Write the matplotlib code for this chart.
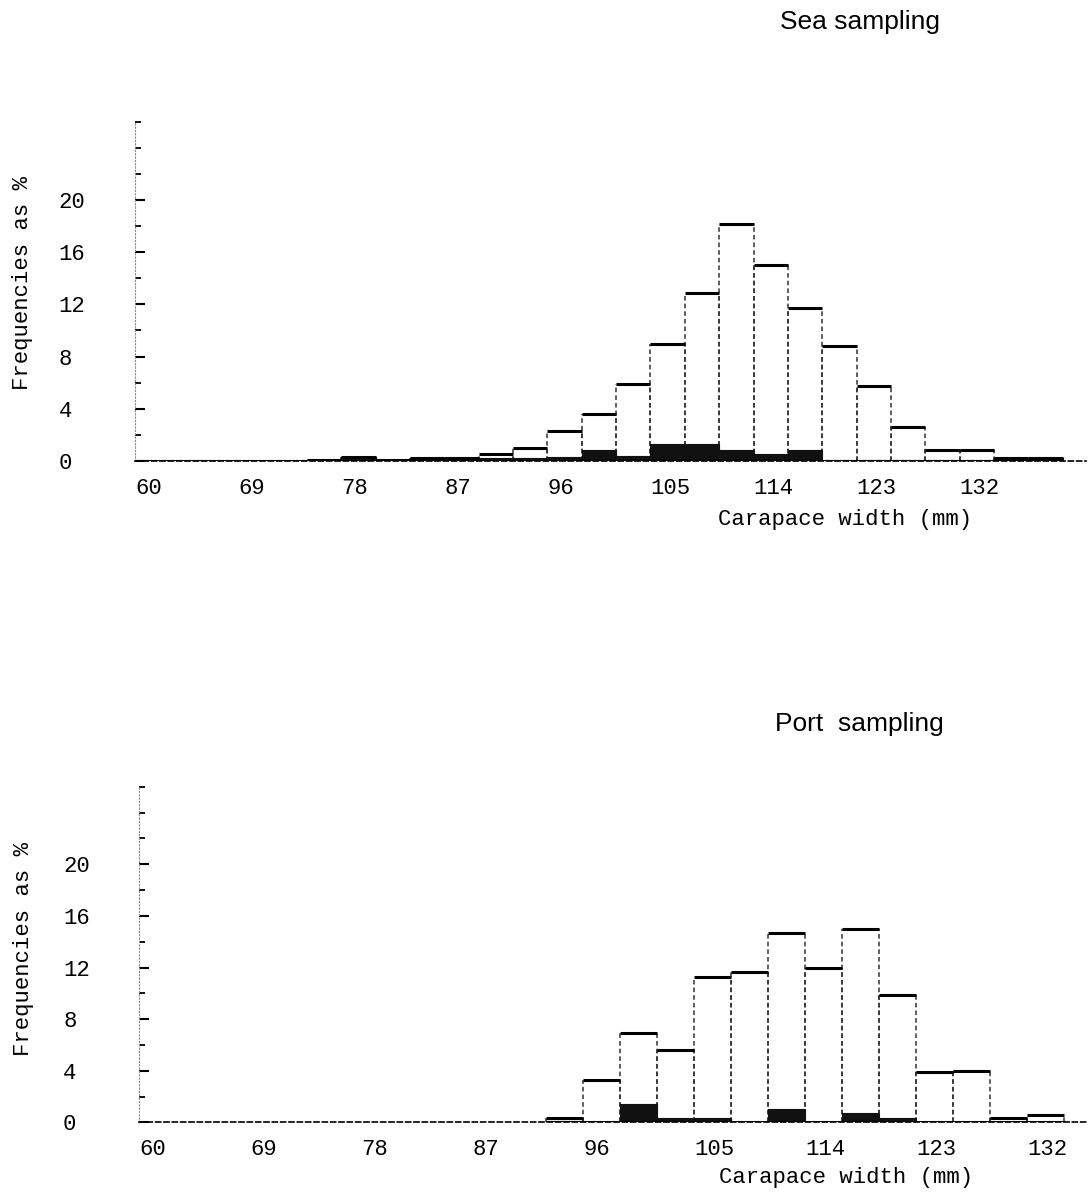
import numpy as np
import matplotlib.pyplot as plt

# left edge of each 3 mm carapace-width class
sea_bins = [60, 63, 66, 69, 72, 75, 78, 81, 84, 87, 90, 93, 96, 99,
            102, 105, 108, 111, 114, 117, 120, 123, 126, 129, 132, 135, 138]
# frequencies as % (all crabs, and the dark part of each class)
sea_total = [0, 0, 0, 0, 0, 0.05, 0.3, 0.1, 0.2, 0.25, 0.55, 1.0, 2.3, 3.6,
             5.9, 9.0, 12.9, 18.2, 15.0, 11.7, 8.8, 5.75, 2.6, 0.8, 0.8, 0.2, 0.2]
sea_dark = [0, 0, 0, 0, 0, 0.05, 0.3, 0.1, 0.2, 0.25, 0.2, 0.2, 0.3, 0.8,
            0.4, 1.3, 1.3, 0.8, 0.5, 0.85, 0.1, 0.05, 0.05, 0.05, 0.05, 0.2, 0.2]

port_bins = [93, 96, 99, 102, 105, 108, 111, 114, 117, 120, 123, 126, 129, 132]
port_total = [0.35, 3.25, 6.9, 5.6, 11.3, 11.65, 14.7, 12.0, 14.95, 9.9,
              3.9, 3.95, 0.3, 0.6]
port_dark = [0.1, 0.0, 1.4, 0.33, 0.33, 0.0, 1.05, 0.05, 0.72, 0.35,
             0.0, 0.0, 0.05, 0.05]

bin_width = 3
x_ticks = [60, 69, 78, 87, 96, 105, 114, 123, 132]
y_ticks = [0, 4, 8, 12, 16, 20]
y_minor = [2, 6, 10, 14, 18, 22, 24, 26]

plt.rcParams['font.family'] = ['Liberation Mono', 'DejaVu Sans Mono']
MONO_SIZE = 16


def draw_panel(ax, bins, total, dark, xmax, xlab_pos, ylab_pos):
    bins = np.asarray(bins, dtype=float)
    total = np.asarray(total, dtype=float)
    dark = np.asarray(dark, dtype=float)

    ax.bar(bins, total, width=bin_width, align='edge', color='white',
           edgecolor='none', zorder=1)
    ax.vlines(bins, 0, total, colors='#333333', lw=1.1,
              linestyles=(0, (3, 2)), zorder=2)
    ax.vlines(bins + bin_width, 0, total, colors='#333333', lw=1.1,
              linestyles=(0, (3, 2)), zorder=2)
    ax.bar(bins, dark, width=bin_width, align='edge', color='#111111',
           edgecolor='#111111', lw=0.8, zorder=3)
    ax.hlines(total, bins, bins + bin_width, colors='black', lw=2.2, zorder=4)
    ax.hlines(0, bins[0], bins[-1] + bin_width, colors='black', lw=2.2, zorder=4)

    ax.set_xlim(60, xmax)
    ax.set_ylim(0, 26)

    for side in ['top', 'right']:
        ax.spines[side].set_visible(False)
    ax.spines['bottom'].set_linestyle((0, (3, 2)))
    ax.spines['bottom'].set_linewidth(1.2)
    ax.spines['left'].set_linestyle((0, (1, 2)))
    ax.spines['left'].set_linewidth(0.8)
    ax.spines['left'].set_color('#888888')

    ax.set_xticks(x_ticks, labels=[str(v) for v in x_ticks], ha='left')
    ax.set_yticks(y_ticks, labels=[str(v) for v in y_ticks], ha='left')
    ax.set_yticks(y_minor, minor=True)
    ax.tick_params(axis='x', length=0, pad=12, labelsize=MONO_SIZE)
    ax.tick_params(axis='y', which='major', direction='in', length=7,
                   width=1.5, pad=55, labelsize=MONO_SIZE)
    ax.tick_params(axis='y', which='minor', direction='in', length=4, width=1.3)

    ax.set_xlabel('Carapace width (mm)', fontsize=MONO_SIZE, ha='left', va='center')
    ax.xaxis.set_label_coords(*xlab_pos)
    ax.set_ylabel('Frequencies as %', fontsize=MONO_SIZE, va='center')
    ax.yaxis.set_label_coords(*ylab_pos)


fig = plt.figure(figsize=(10.89, 11.94), dpi=100)
ax_sea = fig.add_axes([0.124, 0.614, 0.873, 0.284])
ax_port = fig.add_axes([0.128, 0.060, 0.872, 0.281])

draw_panel(ax_sea, sea_bins, sea_total, sea_dark, 143,
           (0.613, -0.174), (-0.118, 0.525))
draw_panel(ax_port, port_bins, port_total, port_dark, 137,
           (0.610, -0.164), (-0.122, 0.518))

fig.text(0.716, 1 - 22 / 1194, 'Sea sampling', family='Liberation Sans',
         fontsize=19, va='center')
fig.text(0.712, 1 - 724 / 1194, 'Port  sampling', family='Liberation Sans',
         fontsize=19, va='center')

fig.savefig('out.png', dpi=100, facecolor='white')
